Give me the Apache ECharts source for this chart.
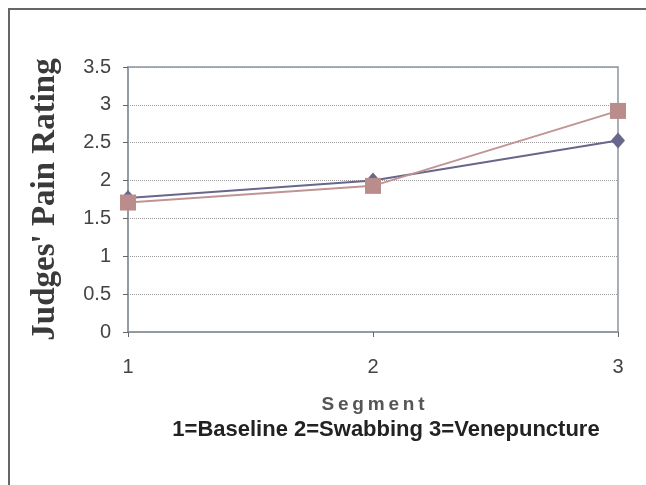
<!DOCTYPE html>
<html><head><meta charset="utf-8">
<script src="https://cdn.jsdelivr.net/npm/echarts@6/dist/echarts.min.js"></script>
<style>html,body{margin:0;padding:0;background:#fff}#c{width:646px;height:485px}</style>
</head><body><div id="c"></div>
<script>
const segments = ['1', '2', '3'];
const seriesA = [1.77, 2.0, 2.53];   // diamond series
const seriesB = [1.71, 1.93, 2.92];  // square series
const yTicks = { min: 0, max: 3.5, interval: 0.5 };
const yName = "Judges' Pain Rating";
const xName = 'S\u2009e\u2009g\u2009m\u2009e\u2009n\u2009t';
const caption = '1=Baseline 2=Swabbing 3=Venepuncture';

const chart = echarts.init(document.getElementById('c'), null, {renderer: 'canvas'});
chart.setOption({
  animation: false,
  backgroundColor: '#fff',
  grid: { left: 128, right: 28, top: 67, bottom: 153, show: true, borderColor: '#8c959f', borderWidth: 1.5, backgroundColor: 'transparent' },
  graphic: [
    { type: 'rect', shape: { x: 9, y: 9, width: 700, height: 600 }, style: { fill: 'none', stroke: '#666', lineWidth: 2 }, silent: true },
    { type: 'text', x: 386, y: 419, style: { text: caption, font: 'bold 22px "Liberation Sans", Arial, sans-serif', fill: '#222', textAlign: 'center', textVerticalAlign: 'top' } }
  ],
  xAxis: {
    type: 'category', data: segments, boundaryGap: false,
    name: xName, nameLocation: 'middle', nameGap: 63,
    nameTextStyle: { fontFamily: '"Liberation Sans", Arial, sans-serif', fontSize: 19, fontWeight: 'bold', color: '#555' },
    axisLine: { lineStyle: { color: '#8c959f', width: 1.5 } },
    axisTick: { show: true, alignWithLabel: true, length: 5, lineStyle: { color: '#666' } },
    axisLabel: { fontFamily: '"Liberation Sans", Arial, sans-serif', fontSize: 20, color: '#444', margin: 25 },
    splitLine: { show: false }
  },
  yAxis: {
    type: 'value', min: yTicks.min, max: yTicks.max, interval: yTicks.interval,
    name: yName, nameLocation: 'middle', nameGap: 66, nameRotate: 90,
    nameTextStyle: { fontFamily: '"Liberation Serif", "Times New Roman", serif', fontSize: 33, fontWeight: 'bold', color: '#3a3a3a' },
    axisLine: { show: true, lineStyle: { color: '#8c959f', width: 1.5 } },
    axisTick: { show: true, length: 5, lineStyle: { color: '#666' } },
    axisLabel: { fontFamily: '"Liberation Sans", Arial, sans-serif', fontSize: 20, color: '#444', margin: 17 },
    splitLine: { show: true, lineStyle: { type: 'dotted', color: '#999', width: 1 } }
  },
  series: [
    { type: 'line', data: seriesA, symbol: 'diamond', symbolSize: [14, 16],
      lineStyle: { color: '#68668a', width: 2 }, itemStyle: { color: '#68668a' } },
    { type: 'line', data: seriesB, symbol: 'rect', symbolSize: 16,
      lineStyle: { color: '#c09494', width: 2 }, itemStyle: { color: '#bb8c8c' } }
  ]
});
</script></body></html>
